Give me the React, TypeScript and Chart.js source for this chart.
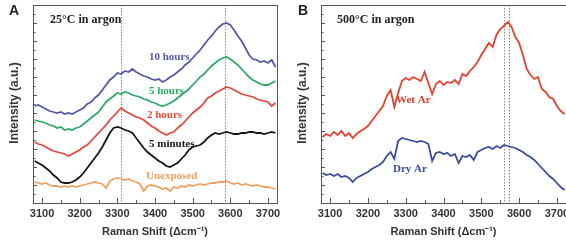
import React, { useEffect, useRef } from "react";
import { Chart, registerables } from "chart.js";

Chart.register(...registerables);

// ---------- data ----------
const X = [3080,3090,3100,3110,3120,3130,3140,3150,3160,3170,3180,3190,3200,3210,3220,3230,3240,3250,3260,3270,3280,3290,3300,3310,3320,3330,3340,3350,3360,3370,3380,3390,3400,3410,3420,3430,3440,3450,3460,3470,3480,3490,3500,3510,3520,3530,3540,3550,3560,3570,3580,3590,3600,3610,3620,3630,3640,3650,3660,3670,3680,3690,3700,3710,3720];
const X_TICKS = [3100, 3200, 3300, 3400, 3500, 3600, 3700];

// Panel A (25 °C in argon), arbitrary intensity units
const HOURS_10 = [97,98,96,94,92,91,90,91,89,90,89,91,93,95,99,101,105,108,113,118,123,126,130,129,132,131,134,131,129,127,126,124,123,124,121,123,126,128,131,134,138,141,145,149,153,158,163,167,172,176,179,180,178,173,167,162,155,148,144,143,141,142,140,143,136];
const HOURS_5 = [83,82,81,80,78,77,75,76,73,74,73,75,76,79,82,85,88,91,96,101,104,107,110,109,111,110,108,107,106,104,103,101,100,98,97,98,100,102,105,108,111,114,118,122,126,129,133,137,140,143,145,146,144,141,138,134,130,126,123,121,119,118,118,120,122];
const HOURS_2 = [61,59,58,56,54,52,51,50,49,47,49,51,53,56,58,62,66,70,74,78,83,87,91,95,92,90,88,86,85,83,80,77,75,72,70,68,70,71,75,78,82,86,90,93,96,100,105,107,110,112,114,116,115,113,111,109,108,107,106,104,103,102,101,97,100];
const MINUTES_5 = [42,40,38,35,32,28,25,21,20,20,21,23,26,30,35,40,45,50,56,63,70,75,76,75,73,72,70,65,60,55,51,48,45,42,40,37,36,38,40,44,48,53,56,57,58,61,65,68,70,69,70,71,70,69,69,70,70,71,71,70,70,69,70,71,70];
const UNEXPOSED = [21,20,19,20,18,17,17,16,17,16,17,16,17,18,19,20,21,20,19,15,22,24,25,24,23,24,22,21,19,12,17,18,17,16,14,15,12,16,15,17,16,18,17,18,19,18,19,20,20,21,21,22,20,19,20,18,19,18,17,18,17,16,16,15,14];

// Panel B (500 °C in argon)
const WET_AR = [66,69,67,71,68,72,67,70,65,69,72,74,77,82,87,92,97,107,113,96,110,122,125,123,126,124,122,131,120,109,119,122,118,121,120,123,119,129,127,132,136,141,148,154,160,156,168,174,177,181,176,166,160,148,134,128,124,126,114,111,106,104,97,92,89];
const DRY_AR = [30,28,29,27,29,26,27,25,21,25,27,29,31,34,36,38,41,47,51,44,62,65,64,63,62,61,62,61,59,42,50,51,49,50,47,49,40,47,46,48,43,51,53,55,56,54,57,55,58,57,56,55,53,51,48,46,43,39,35,31,27,24,20,16,13];

const MARKERS_A = [3310, 3587];
const MARKERS_B = [3560, 3572];

const Y_MIN = 0;
const Y_MAX = 198;
const Y_TICK_STEP = 9;

// ---------- styling ----------
const SANS = "'Liberation Sans', Arial, sans-serif";
const SERIF = "'Liberation Serif', 'Times New Roman', serif";

type Note = { text: string; color: string; x: number; y: number; size: number };

type PanelCfg = {
  width: number;
  left: number;
  padRight: number;
  series: { data: number[]; color: string }[];
  markers: number[];
  letter: { text: string; x: number; y: number };
  notes: Note[];
};

const toPoints = (ys: number[]) => X.map((x, i) => ({ x, y: ys[i] }));

function makeOverlay(cfg: PanelCfg) {
  return {
    id: "overlay",
    beforeDatasetsDraw(chart: any) {
      const { ctx, chartArea, scales } = chart;
      ctx.save();
      ctx.strokeStyle = "#8a8a8a";
      ctx.lineWidth = 1;
      ctx.setLineDash([1.5, 1.5]);
      cfg.markers.forEach((m) => {
        const px = Math.round(scales.x.getPixelForValue(m)) + 0.5;
        ctx.beginPath();
        ctx.moveTo(px, chartArea.top);
        ctx.lineTo(px, chartArea.bottom);
        ctx.stroke();
      });
      ctx.restore();
    },
    afterDraw(chart: any) {
      const { ctx, chartArea, scales } = chart;
      const { left, right, top, bottom } = chartArea;
      ctx.save();
      // frame
      ctx.strokeStyle = "#555";
      ctx.lineWidth = 1;
      ctx.strokeRect(Math.round(left) + 0.5, Math.round(top) + 0.5, Math.round(right - left), Math.round(bottom - top));
      // bottom ticks (inward)
      for (let v = X_TICKS[0] - 50; v <= X_TICKS[X_TICKS.length - 1] + 1; v += 50) {
        const px = Math.round(scales.x.getPixelForValue(v)) + 0.5;
        if (px < left || px > right) continue;
        const major = X_TICKS.includes(v);
        ctx.beginPath();
        ctx.moveTo(px, bottom);
        ctx.lineTo(px, bottom - (major ? 5 : 3));
        ctx.stroke();
      }
      // left ticks (inward)
      let k = 0;
      for (let v = Y_MIN; v <= Y_MAX; v += Y_TICK_STEP) {
        const py = Math.round(scales.y.getPixelForValue(v)) + 0.5;
        ctx.beginPath();
        ctx.moveTo(left, py);
        ctx.lineTo(left + (k % 2 === 0 ? 4 : 2.5), py);
        ctx.stroke();
        k++;
      }
      // panel letter
      ctx.fillStyle = "#222";
      ctx.font = `bold 14px ${SANS}`;
      ctx.textBaseline = "middle";
      ctx.textAlign = "left";
      ctx.fillText(cfg.letter.text, cfg.letter.x, cfg.letter.y);
      // axis titles
      ctx.fillStyle = "#333";
      ctx.font = `bold 11px ${SANS}`;
      ctx.textAlign = "center";
      ctx.fillText("Raman Shift (\u0394cm\u207B\u00B9)", (left + right) / 2, 232);
      ctx.save();
      ctx.font = `bold 12px ${SANS}`;
      ctx.translate(15, 103);
      ctx.rotate(-Math.PI / 2);
      ctx.fillText("Intensity (a.u.)", 0, 0);
      ctx.restore();
      // annotations
      ctx.textAlign = "left";
      cfg.notes.forEach((n) => {
        ctx.fillStyle = n.color;
        ctx.font = `bold ${n.size}px ${SERIF}`;
        ctx.fillText(n.text, n.x, n.y);
      });
      ctx.restore();
    },
  };
}

function Panel({ cfg }: { cfg: PanelCfg }) {
  const ref = useRef<HTMLCanvasElement>(null);
  useEffect(() => {
    if (!ref.current) return;
    const chart = new Chart(ref.current, {
      type: "line",
      data: {
        datasets: cfg.series.map((s) => ({
          data: toPoints(s.data),
          borderColor: s.color,
          borderWidth: 1.8,
          pointRadius: 0,
          tension: 0,
          fill: false,
        })),
      },
      options: {
        animation: false,
        responsive: false,
        parsing: false as any,
        layout: { padding: { left: 0, right: cfg.padRight, top: 5, bottom: 0 } },
        plugins: { legend: { display: false }, tooltip: { enabled: false } },
        scales: {
          x: {
            type: "linear",
            min: 3076,
            max: 3724,
            grid: { display: false, drawTicks: false },
            border: { display: false },
            afterBuildTicks: (s: any) => {
              s.ticks = X_TICKS.map((v) => ({ value: v }));
            },
            afterFit: (s: any) => {
              s.height = 46;
              s.paddingLeft = 0;
              s.paddingRight = 0;
            },
            ticks: {
              autoSkip: false,
              maxRotation: 0,
              padding: 4,
              color: "#333",
              font: { family: SANS, size: 11, weight: "bold" },
              callback: (v: any) => String(v),
            },
          },
          y: {
            type: "linear",
            min: Y_MIN,
            max: Y_MAX,
            grid: { display: false, drawTicks: false },
            border: { display: false },
            ticks: { display: false },
            afterFit: (s: any) => {
              s.width = 33;
            },
          },
        },
      },
      plugins: [makeOverlay(cfg)],
    } as any);
    return () => chart.destroy();
  }, [cfg]);
  return (
    <canvas
      ref={ref}
      width={cfg.width}
      height={249}
      style={{ position: "absolute", left: cfg.left, top: 0, width: cfg.width, height: 249 }}
    />
  );
}

const PANEL_A: PanelCfg = {
  width: 283,
  left: 0,
  padRight: 6,
  series: [
    { data: HOURS_10, color: "#5558a6" },
    { data: HOURS_5, color: "#2fa866" },
    { data: HOURS_2, color: "#e2483c" },
    { data: MINUTES_5, color: "#151515" },
    { data: UNEXPOSED, color: "#eea060" },
  ],
  markers: MARKERS_A,
  letter: { text: "A", x: 9, y: 11 },
  notes: [
    { text: "25\u00B0C in argon", color: "#222", x: 50, y: 20, size: 12 },
    { text: "10 hours", color: "#5558a6", x: 149, y: 57, size: 11 },
    { text: "5 hours", color: "#2fa866", x: 149, y: 91, size: 11 },
    { text: "2 hours", color: "#e2483c", x: 147, y: 115, size: 11 },
    { text: "5 minutes", color: "#151515", x: 149, y: 144, size: 11 },
    { text: "Unexposed", color: "#eea060", x: 146, y: 176, size: 11 },
  ],
};

const PANEL_B: PanelCfg = {
  width: 278,
  left: 288,
  padRight: 0,
  series: [
    { data: WET_AR, color: "#e5402e" },
    { data: DRY_AR, color: "#3b4c9c" },
  ],
  markers: MARKERS_B,
  letter: { text: "B", x: 10, y: 11 },
  notes: [
    { text: "500\u00B0C in argon", color: "#222", x: 49, y: 20, size: 12 },
    { text: "Wet Ar", color: "#e5402e", x: 108, y: 100, size: 11 },
    { text: "Dry Ar", color: "#3b4c9c", x: 105, y: 169, size: 11 },
  ],
};

export default function App() {
  return (
    <div style={{ position: "absolute", left: 0, top: 0, width: 566, height: 249, background: "#fff", overflow: "hidden" }}>
      <Panel cfg={PANEL_A} />
      <Panel cfg={PANEL_B} />
    </div>
  );
}
